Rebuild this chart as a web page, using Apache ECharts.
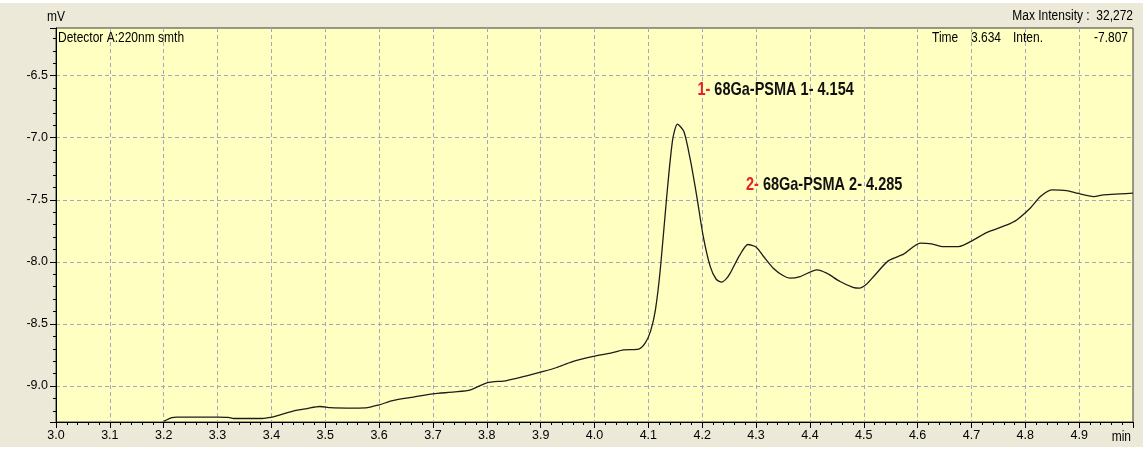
<!DOCTYPE html>
<html>
<head>
<meta charset="utf-8">
<script src="https://cdn.jsdelivr.net/npm/echarts@6/dist/echarts.min.js"></script>
<style>
  html, body { margin: 0; padding: 0; background: #ffffff; }
  #chart { position: absolute; left: 0; top: 3px; width: 1143px; height: 444px; }
</style>
</head>
<body>
<div id="chart"></div>
<script>
// Chromatogram trace: retention time (min) and detector signal (mV)
const times = [
  3.200, 3.215, 3.225, 3.260, 3.300, 3.320, 3.330, 3.380, 3.395, 3.410,
  3.440, 3.466, 3.490, 3.510, 3.540, 3.575, 3.600, 3.625, 3.664, 3.700,
  3.740, 3.770, 3.800, 3.837, 3.874, 3.905, 3.930, 3.958, 3.998, 4.030,
  4.054, 4.082, 4.094, 4.104, 4.113, 4.122, 4.134, 4.145, 4.154, 4.166,
  4.178, 4.190, 4.202, 4.215, 4.226, 4.236, 4.245, 4.252, 4.270, 4.285,
  4.300, 4.314, 4.332, 4.350, 4.363, 4.382, 4.413, 4.431, 4.456, 4.480,
  4.492, 4.505, 4.520, 4.546, 4.574, 4.605, 4.626, 4.648, 4.676, 4.704,
  4.728, 4.766, 4.784, 4.809, 4.828, 4.849, 4.877, 4.896, 4.927, 4.945,
  4.976, 5.000
];
const signal = [
  -9.285, -9.255, -9.250, -9.250, -9.250, -9.252, -9.262, -9.262, -9.255, -9.240,
  -9.203, -9.182, -9.165, -9.175, -9.178, -9.176, -9.152, -9.118, -9.089, -9.063,
  -9.048, -9.031, -8.975, -8.956, -8.918, -8.883, -8.851, -8.805, -8.762, -8.735,
  -8.709, -8.703, -8.655, -8.560, -8.390, -8.070, -7.480, -7.020, -6.890, -6.950,
  -7.179, -7.474, -7.796, -8.038, -8.140, -8.163, -8.135, -8.091, -7.944, -7.860,
  -7.880, -7.957, -8.051, -8.110, -8.131, -8.118, -8.064, -8.091, -8.158, -8.205,
  -8.212, -8.180, -8.110, -7.990, -7.938, -7.849, -7.855, -7.877, -7.877, -7.823,
  -7.764, -7.702, -7.662, -7.568, -7.474, -7.420, -7.426, -7.447, -7.474, -7.461,
  -7.453, -7.447
];

// Identified peaks
const peakNames = ['68Ga-PSMA 1', '68Ga-PSMA 2'];
const peakTimes = [4.154, 4.285];
const peakSignal = [-6.890, -7.860];

// Axis ranges and header readouts
const timeRange = [3.0, 5.0];
const signalRange = [-9.29, -6.116];
const detectorLabel = 'Detector A:220nm smth';
const maxIntensityText = 'Max Intensity :  32,272';
const cursorTime = '3.634';
const cursorInten = '-7.807';

const FONT = '"Liberation Sans", Arial, sans-serif';
const AXIS_FS = 12.5;
const TEXT_FS = 12;
const TEXT_SY = 1.22;   // tall instrument-style lettering
const NOTE_FS = 14.5;
const NOTE_SY = 1.25;

const chart = echarts.init(document.getElementById('chart'), null, { renderer: 'canvas' });

const series = times.map((t, i) => [t, signal[i]]);
const isMajor = (v, step) => Math.abs(v / step - Math.round(v / step)) < 1e-6;

const gridLine = { color: '#A5A8BC', type: [4, 3], width: 1 };

const option = {
  backgroundColor: '#ECE9D8',
  animation: false,
  textStyle: { fontFamily: FONT },
  grid: {
    left: 56, right: 10, top: 25, bottom: 25,
    show: true,
    backgroundColor: '#FFFFC2',
    borderColor: '#3a3a3a',
    borderWidth: 1
  },
  xAxis: {
    type: 'value',
    min: timeRange[0],
    max: timeRange[1],
    interval: 0.1,
    axisLine: { show: true, onZero: false, lineStyle: { color: '#000', width: 1 } },
    axisTick: { show: true, inside: false, length: 6, lineStyle: { color: '#000' } },
    minorTick: { show: true, splitNumber: 5, length: 3, lineStyle: { color: '#000' } },
    axisLabel: {
      color: '#000', fontFamily: FONT, fontSize: AXIS_FS, margin: 7,
      formatter: v => (v > timeRange[1] - 1e-6 ? '' : v.toFixed(1))
    },
    splitLine: { show: true, showMinLine: false, showMaxLine: false, lineStyle: gridLine }
  },
  yAxis: {
    type: 'value',
    min: signalRange[0],
    max: signalRange[1],
    splitNumber: 6,
    axisLine: { show: true, onZero: false, lineStyle: { color: '#000', width: 1 } },
    axisTick: { show: true, inside: false, length: 6, lineStyle: { color: '#000' } },
    minorTick: { show: true, splitNumber: 5, length: 3, lineStyle: { color: '#000' } },
    axisLabel: {
      color: '#000', fontFamily: FONT, fontSize: AXIS_FS, margin: 8,
      showMinLabel: false, showMaxLabel: false,
      formatter: v => (isMajor(v, 0.5) ? v.toFixed(1) : '')
    },
    splitLine: { show: true, showMinLine: false, showMaxLine: false, lineStyle: gridLine }
  },
  series: [{
    type: 'line',
    data: series,
    showSymbol: false,
    smooth: 0.25,
    lineStyle: { color: '#1c1c1c', width: 1.3 }
  }]
};

chart.setOption(option);

// Header / footer captions
function caption(text, x, y, align) {
  return {
    type: 'text', x: x, y: y, scaleY: TEXT_SY, silent: true,
    style: {
      text: text, font: TEXT_FS + 'px ' + FONT, fill: '#000',
      textAlign: align || 'left', textVerticalAlign: 'middle'
    }
  };
}

const graphics = [
  caption('mV', 47, 14),
  caption(maxIntensityText, 1133, 13, 'right'),
  caption(detectorLabel, 58, 35),
  caption('Time', 932, 35),
  caption(cursorTime, 971, 35),
  caption('Inten.', 1013, 35),
  caption(cursorInten, 1128, 35, 'right'),
  caption('min', 1131, 434, 'right')
];

// Peak annotations, anchored to the peak apex
const noteOffsets = [[20, -34], [-2, -59]];
peakTimes.forEach((t, i) => {
  const p = chart.convertToPixel({ seriesIndex: 0 }, [t, peakSignal[i]]);
  graphics.push({
    type: 'text', x: p[0] + noteOffsets[i][0], y: p[1] + noteOffsets[i][1],
    scaleY: NOTE_SY, silent: true, z: 10,
    style: {
      text: '{n|' + (i + 1) + '- }{t|' + peakNames[i] + '- ' + peakTimes[i].toFixed(3) + '}',
      textAlign: 'left', textVerticalAlign: 'middle',
      rich: {
        n: { fill: '#E8202A', font: 'bold ' + NOTE_FS + 'px ' + FONT },
        t: { fill: '#111111', font: 'bold ' + NOTE_FS + 'px ' + FONT }
      }
    }
  });
});

chart.setOption({ graphic: graphics });
</script>
</body>
</html>
